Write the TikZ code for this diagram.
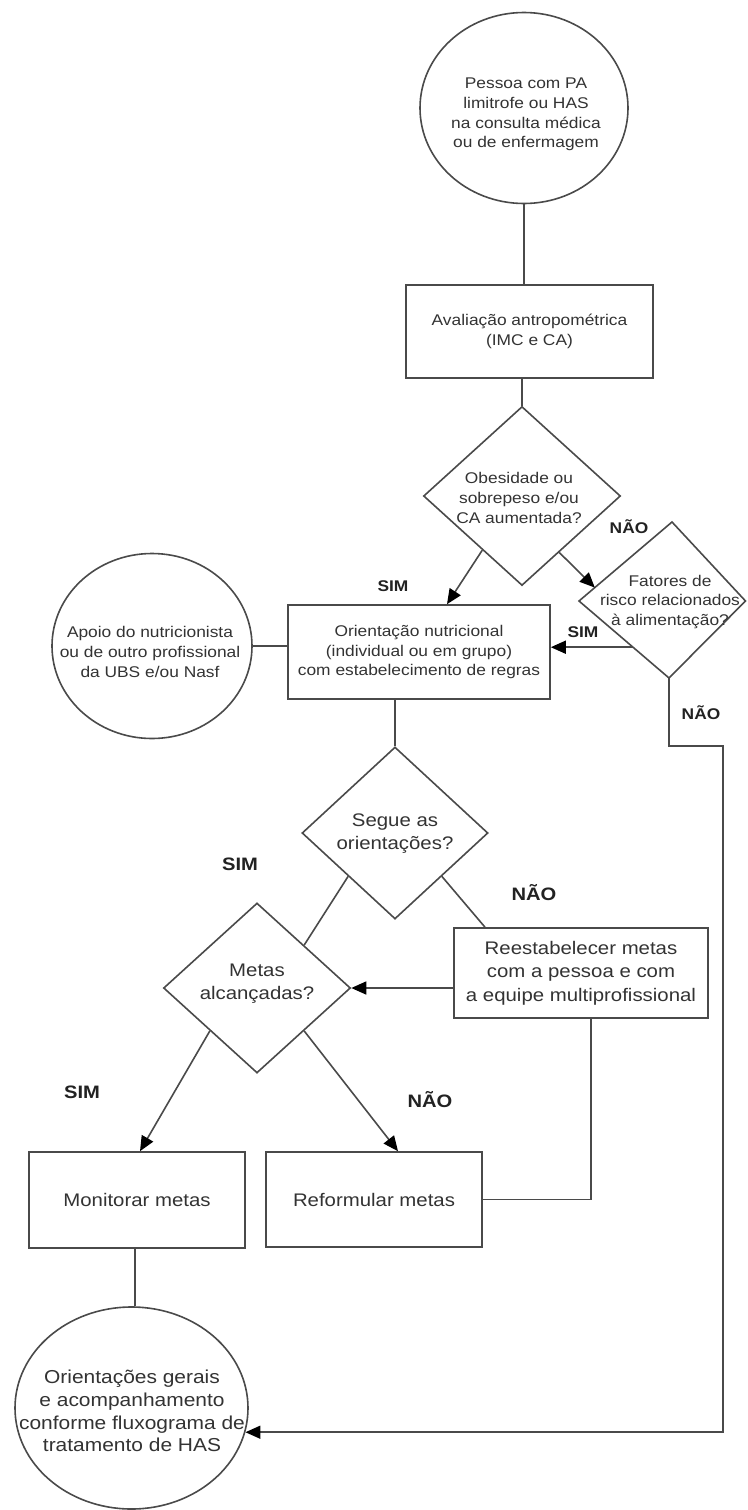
\documentclass[tikz,border=0pt]{standalone}
\usepackage{fontspec}
\setmainfont{Liberation Sans}[FakeStretch=1.12]
\usetikzlibrary{shapes.geometric,arrows.meta,calc}
\definecolor{ink}{HTML}{333333}
\definecolor{edgec}{HTML}{4A4A4A}
\definecolor{labc}{HTML}{222222}
\tikzset{
  base/.style={draw=edgec, line width=1.6pt, text=ink, align=center, inner sep=0pt},
  boxA/.style={base, rectangle, font=\fontsize{15.5}{19.7}\selectfont},
  boxB/.style={base, rectangle, font=\fontsize{18.2}{23.5}\selectfont},
  ell/.style={base, ellipse},
  dia/.style={base, diamond},
  txtA/.style={text=ink, align=center, inner sep=0pt, font=\fontsize{15.5}{19.7}\selectfont},
  txtB/.style={text=ink, align=center, inner sep=0pt, font=\fontsize{18.2}{23}\selectfont},
  txtC/.style={text=ink, align=center, inner sep=0pt, font=\fontsize{18.7}{22.7}\selectfont},
  labA/.style={text=labc, inner sep=0pt, font=\fontsize{15.5}{18}\selectfont\bfseries},
  labB/.style={text=labc, inner sep=0pt, font=\fontsize{18}{21}\selectfont\bfseries},
  conn/.style={draw=edgec, line width=1.6pt},
  arr/.style={conn, -{Triangle[length=15pt,width=13pt,color=black,fill=black]}},
}
\begin{document}
\begin{tikzpicture}[x=1pt,y=-1pt]
\useasboundingbox (0,0) rectangle (747,1510);
\fill[white] (0,0) rectangle (747,1510);

% start circle
\node[ell, minimum width=208pt, minimum height=191pt] (c1) at (524,108) {};
\node[txtA] (c1t) at (526,114.5) {Pessoa com PA\\limitrofe ou HAS\\na consulta médica\\ou de enfermagem};

% anthropometric box
\node[boxA, minimum width=247pt, minimum height=93pt] (b1) at (529.5,331.5) {Avaliação antropométrica\\(IMC e CA)};

% diamond 1
\node[dia, minimum width=197pt, minimum height=179pt] (d1) at (522,496) {};
\node[txtA] (d1t) at (519,498) {Obesidade ou\\sobrepeso e/ou\\CA aumentada?};

% diamond 2 (cut at the right edge)
\coordinate (d2t) at (672,522);
\coordinate (d2l) at (579,601);
\coordinate (d2b) at (669,678);
\coordinate (d2r) at (745.5,601);
\draw[conn, line join=miter] (d2t) -- (d2l) -- (d2b) -- (d2r) -- cycle;
\node[txtA] (d2) at (670,602) {Fatores de\\risco relacionados\\à alimentação?};

% nutritional orientation box
\node[boxA, minimum width=262pt, minimum height=94pt] (b2) at (419,652) {Orientação nutricional\\(individual ou em grupo)\\com estabelecimento de regras};

% support circle
\node[ell, minimum width=200pt, minimum height=185pt] (c2) at (152,646) {};
\node[txtA] (c2t) at (150,652) {Apoio do nutricionista\\ou de outro profissional\\da UBS e/ou Nasf};

% diamond 3
\node[dia, minimum width=186pt, minimum height=172pt] (d3) at (395,833) {};
\node[txtB] (d3t) at (395,833.5) {Segue as\\orientações?};

% diamond 4
\node[dia, minimum width=187pt, minimum height=170pt] (d4) at (257,988) {};
\node[txtB] (d4t) at (257,983.5) {Metas\\alcançadas?};

% re-establish box
\node[boxB, minimum width=254pt, minimum height=90pt] (b3) at (581,973) {Reestabelecer metas\\com a pessoa e com\\a equipe multiprofissional};

% monitor / reformulate
\node[boxB, minimum width=216pt, minimum height=96pt] (b4) at (137,1200) {Monitorar metas};
\node[boxB, minimum width=216pt, minimum height=95pt] (b5) at (374,1199.5) {Reformular metas};

% end circle
\node[ell, minimum width=233pt, minimum height=202pt] (c3) at (131.5,1408) {};
\node[txtC] (c3t) at (132,1411) {Orientações gerais\\e acompanhamento\\conforme fluxograma de\\tratamento de HAS};

% connectors
\draw[conn] (c1.south) -- (c1.south |- b1.north);
\draw[conn] (b1.south -| d1.north) -- (d1.north);
\draw[arr] ($(d1.west)!0.6!(d1.south)$) -- (b2.north -| 447,0);
\draw[arr] ($(d1.south)!0.375!(d1.east)$) -- ($(d2l)!0.17!(d2t)$);
\coordinate (s2) at ($(d2l)!0.6!(d2b)$);
\draw[arr] (s2) -- (s2 -| b2.east);
\draw[arr] (d2b) |- (723,746) |- (c3.-12);
\draw[conn] (c2.east) -- (c2.east -| b2.west);
\draw[conn] (b2.south -| d3.north) -- (d3.north);
\draw[conn] (d3.south west) -- (d4.north east);
\draw[conn] (d3.south east) -- (b3.north -| 485,0);
\draw[arr] (d4.east -| b3.west) -- (d4.east);
\draw[arr] (d4.south west) -- (b4.north -| 140,0);
\draw[arr] (d4.south east) -- (b5.north -| 398,0);
\draw[conn] (b4.south -| 135,0) -- (c3.north -| 135,0);
\draw[conn] (b3.south -| 591,0) |- (b5.east);

% labels
\node[labA] (l1) at (393,586) {SIM};
\node[labA] (l2) at (629,527) {NÃO};
\node[labA] (l3) at (583,632) {SIM};
\node[labA] (l4) at (701,713) {NÃO};
\node[labB] (l5) at (240,864) {SIM};
\node[labB] (l6) at (534,893) {NÃO};
\node[labB] (l7) at (82,1092) {SIM};
\node[labB] (l8) at (430,1100) {NÃO};
\end{tikzpicture}
\end{document}
